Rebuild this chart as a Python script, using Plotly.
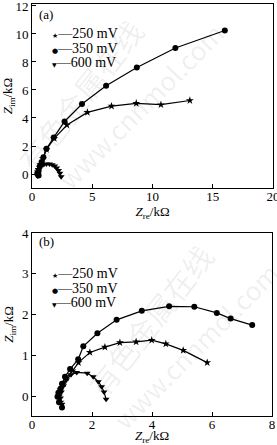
import plotly.graph_objects as go

# ---------- Panel (a) data ----------
a_250_x = [0.5, 0.55, 0.7, 0.9, 1.2, 1.85, 2.9, 4.6, 6.6, 8.65, 10.7, 13.1]
a_250_y = [0.0, 0.3, 0.7, 1.1, 1.75, 2.55, 3.5, 4.4, 4.85, 5.05, 4.95, 5.25]

a_350_x = [0.55, 0.5, 0.55, 0.65, 0.8, 0.95, 1.2, 1.8, 2.7, 4.15, 6.15, 8.7, 11.9, 16.0]
a_350_y = [-0.1, 0.05, 0.25, 0.55, 0.85, 1.2, 1.8, 2.6, 3.75, 5.0, 6.3, 7.6, 9.0, 10.25]

a_600_x = [0.45, 0.42, 0.45, 0.52, 0.62, 0.78, 0.98, 1.2, 1.45, 1.68, 1.88, 2.05, 2.2, 2.32, 2.42]
a_600_y = [-0.15, 0.0, 0.15, 0.32, 0.48, 0.6, 0.68, 0.72, 0.72, 0.67, 0.57, 0.43, 0.25, 0.05, -0.2]

# ---------- Panel (b) data ----------
b_250_x = [0.95, 0.9, 0.95, 1.05, 1.15, 1.35, 1.55, 1.93, 2.43, 2.93, 3.47, 3.99, 4.46, 5.04, 5.84]
b_250_y = [-0.15, 0.0, 0.15, 0.3, 0.45, 0.62, 0.82, 1.07, 1.2, 1.31, 1.33, 1.37, 1.28, 1.12, 0.82]

b_350_x = [1.0, 0.9, 0.85, 0.88, 0.95, 1.0, 1.1, 1.27, 1.54, 1.71, 2.18, 2.82, 3.66, 4.57, 5.41, 6.16, 6.62, 7.34]
b_350_y = [-0.28, -0.15, -0.02, 0.08, 0.18, 0.3, 0.47, 0.66, 0.9, 1.22, 1.54, 1.87, 2.09, 2.2, 2.19, 2.04, 1.9, 1.74]

b_600_x = [1.0, 0.95, 0.98, 1.05, 1.15, 1.3, 1.49, 1.84, 2.04, 2.21, 2.32, 2.4, 2.47]
b_600_y = [-0.2, -0.05, 0.1, 0.25, 0.4, 0.52, 0.58, 0.56, 0.47, 0.35, 0.23, 0.1, -0.08]

series_names = ["250 mV", "350 mV", "600 mV"]
symbols = ["star", "circle", "triangle-down"]
msizes = [6, 6, 6]

FONT = "Liberation Serif"

fig = go.Figure()

panels = [
    ("x", "y", [(a_250_x, a_250_y), (a_350_x, a_350_y), (a_600_x, a_600_y)]),
    ("x2", "y2", [(b_250_x, b_250_y), (b_350_x, b_350_y), (b_600_x, b_600_y)]),
]
for xa, ya, data in panels:
    for (xs, ys), name, sym, ms in zip(data, series_names, symbols, msizes):
        fig.add_trace(go.Scatter(
            x=xs, y=ys, mode="lines+markers", name=name, showlegend=False,
            xaxis=xa, yaxis=ya,
            line=dict(color="black", width=1.2),
            marker=dict(symbol=sym, size=ms, color="black"),
        ))

axis_common = dict(
    showline=True, linecolor="black", linewidth=1, mirror=True,
    ticks="inside", ticklen=4, tickcolor="black", showgrid=False, zeroline=False,
    tickfont=dict(family=FONT, size=13, color="black"),
    automargin=False, ticklabeloverflow="allow",
)

title_font = dict(family=FONT, size=13, color="black")

fig.update_layout(
    width=277, height=445,
    margin=dict(l=0, r=0, t=0, b=0),
    paper_bgcolor="white", plot_bgcolor="white",
    font=dict(family=FONT, size=12, color="black"),
    xaxis=dict(domain=[0.1155, 0.9856], range=[0, 20], dtick=5, anchor="y",
               ticklabelstandoff=-4,
               title=dict(text="<i>Z</i><sub>re</sub>/kΩ", font=title_font, standoff=4),
               **axis_common),
    yaxis=dict(domain=[0.5775, 0.991], range=[-1, 12.14], dtick=2, anchor="x",
               title=dict(text="<i>Z</i><sub>im</sub>/kΩ", font=title_font, standoff=5),
               **axis_common),
    xaxis2=dict(domain=[0.1155, 0.982], range=[0, 8], dtick=2, anchor="y2",
                ticklabelstandoff=-4,
                title=dict(text="<i>Z</i><sub>re</sub>/kΩ", font=title_font, standoff=4),
                **axis_common),
    yaxis2=dict(domain=[0.0652, 0.4764], range=[-0.49, 4.0], dtick=1, anchor="x2",
                title=dict(text="<i>Z</i><sub>im</sub>/kΩ", font=title_font, standoff=5),
                **axis_common),
)

# panel labels
fig.add_annotation(text="(a)", xref="paper", yref="paper", x=37/277, y=1-15/445,
                   xanchor="left", yanchor="middle", showarrow=False, font=dict(family=FONT, size=13))
fig.add_annotation(text="(b)", xref="paper", yref="paper", x=37/277, y=1-242/445,
                   xanchor="left", yanchor="middle", showarrow=False, font=dict(family=FONT, size=13))

# legends (marker glyph + dash + label)
glyphs = ["★", "●", "▼"]
gsizes = [7, 7, 6]
leg_a = [34, 49, 63]
leg_b = [273, 288, 302]
for ys in (leg_a, leg_b):
    for yy, g, gs, name in zip(ys, glyphs, gsizes, series_names):
        fig.add_annotation(
            text=f"<span style='font-family:DejaVu Sans;font-size:{gs}px'>{g}</span>—{name}",
            xref="paper", yref="paper", x=50/277, y=1-yy/445,
            xanchor="left", yanchor="middle", showarrow=False,
            font=dict(family=FONT, size=14, color="black"))

# faint watermark
wm = [
    ("有色金属在线", 80, 95, -52, 30),
    ("www.cnnmol.com", 140, 105, -45, 26),
    ("有色金属在线", 150, 320, -52, 30),
    ("www.cnnmol.com", 195, 345, -45, 26),
]
for t, cx, cy, ang, fs in wm:
    fig.add_annotation(text=t, xref="paper", yref="paper", x=cx/277, y=1-cy/445,
                       xanchor="center", yanchor="middle",
                       showarrow=False, textangle=ang,
                       font=dict(family="Noto Sans CJK SC", size=fs, color="rgba(0,0,0,0.07)"))

fig.write_html("out.html")
